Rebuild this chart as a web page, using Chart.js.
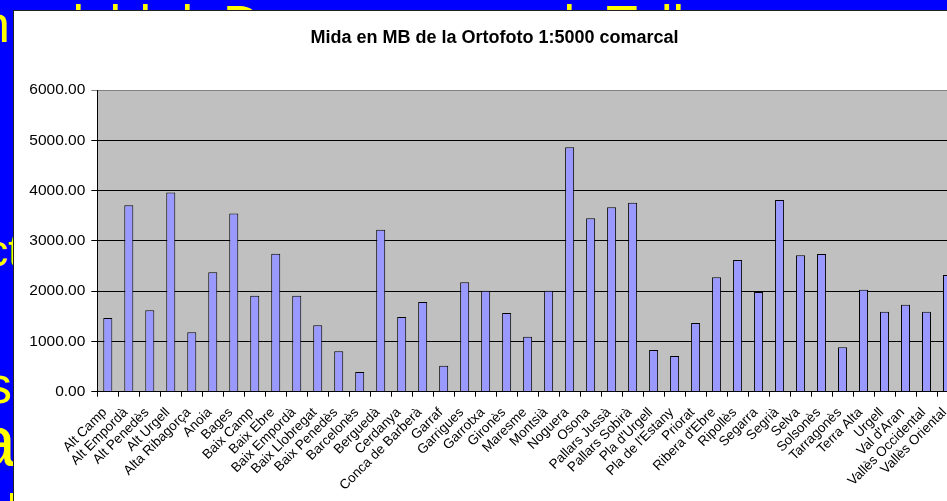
<!DOCTYPE html>
<html><head><meta charset="utf-8">
<script src="https://cdn.jsdelivr.net/npm/chart.js@4/dist/chart.umd.min.js"></script>
<style>
html,body{margin:0;padding:0;width:947px;height:501px;overflow:hidden;background:#0000FF;}
.bg{position:absolute;color:#FFFF00;font-family:"Liberation Sans",Arial,sans-serif;white-space:nowrap;line-height:1;}
#box{position:absolute;left:13px;top:10px;width:980px;height:520px;background:#fff;border:1px solid #222;box-sizing:border-box;}
#wrap{position:absolute;left:14px;top:11px;width:961px;height:490px;}
</style></head>
<body>
<div id="bgtext"></div>
<div id="box"></div>
<div id="wrap"><canvas id="c"></canvas></div>
<script>
// ---- data ----
const categories = ["Alt Camp","Alt Empordà","Alt Penedès","Alt Urgell","Alta Ribagorça","Anoia","Bages","Baix Camp","Baix Ebre","Baix Empordà","Baix Llobregat","Baix Penedès","Barcelonès","Berguedà","Cerdanya","Conca de Barberà","Garraf","Garrigues","Garrotxa","Gironès","Maresme","Montsià","Noguera","Osona","Pallars Jussà","Pallars Sobirà","Pla d'Urgell","Pla de l'Estany","Priorat","Ribera d'Ebre","Ripollès","Segarra","Segrià","Selva","Solsonès","Tarragonès","Terra Alta","Urgell","Val d'Aran","Vallès Occidental","Vallès Oriental"];
const sizesMB = [1465,3710,1620,3960,1180,2375,3545,1910,2745,1910,1320,803,392,3220,1485,1785,517,2175,2008,1565,1093,2008,4859,3447,3666,3757,829,710,1366,2274,2618,1982,3811,2712,2738,883,2028,1590,1730,1590,2320];
const yTicks = [0,1000,2000,3000,4000,5000,6000];
const chartTitle = "Mida en MB de la Ortofoto 1:5000 comarcal";

// ---- background slide text (mostly hidden behind the chart) ----
const bgItems = [
  {t:"n", x:-19, base:42, f:52},
  {t:"l", x:72.5, base:42, f:52},
  {t:"l", x:109.5, base:42, f:52},
  {t:"l", x:139.5, base:42, f:52},
  {t:"l", x:181.5, base:42, f:52},
  {t:"D", x:223, base:42, f:52},
  {t:"l", x:563.5, base:42, f:52},
  {t:"Tall", x:606, base:42, f:52},
  {t:"Objectius", pre:"Obje", x:-14, base:266, f:44},
  {t:"Dades", pre:"Dade", x:-14, base:403, f:52},
  {t:"la", pre:"l", x:-24, base:466, f:72},
  {t:"la", x:6.5, base:531, f:52}
];
(function(){
  const host = document.getElementById('bgtext');
  const mc = document.createElement('canvas').getContext('2d');
  bgItems.forEach(it=>{
    const s = document.createElement('span');
    s.className='bg'; s.textContent = it.t;
    s.style.fontSize = it.f+'px';
    let w = 0;
    if (it.pre){ mc.font = it.f+'px "Liberation Sans", Arial'; w = mc.measureText(it.pre).width; }
    s.style.left = (it.x - w)+'px';
    s.style.top = (it.base - 0.8465*it.f)+'px';
    host.appendChild(s);
  });
})();

const plotBg = {
  id:'plotBg',
  beforeDraw(chart){
    const {ctx, chartArea:a} = chart;
    ctx.save(); ctx.fillStyle='#C0C0C0';
    ctx.fillRect(a.left, a.top, a.right-a.left, a.bottom-a.top);
    ctx.restore();
  }
};

Chart.defaults.font.family = '"Liberation Sans", Arial, sans-serif';
Chart.defaults.color = '#000';

new Chart(document.getElementById('c'), {
  type:'bar',
  data:{
    labels: categories,
    datasets:[{
      data: sizesMB,
      backgroundColor:'#9999FF',
      borderColor:'#000',
      borderWidth:1,
      barPercentage:0.43,
      categoryPercentage:1
    }]
  },
  options:{
    responsive:true,
    maintainAspectRatio:false,
    animation:false,
    layout:{padding:{left:0,right:0,top:0,bottom:0}},
    plugins:{
      legend:{display:false},
      tooltip:{enabled:false},
      title:{display:true, text:chartTitle, color:'#000',
        font:{size:18, weight:'bold', lineHeight:1.2},
        padding:{top:16, bottom:41.4}}
    },
    scales:{
      x:{
        offset:true,
        grid:{display:true, drawOnChartArea:false, drawTicks:true, tickLength:5, color:'#000', offset:true},
        border:{display:true, color:'#000', width:1},
        ticks:{autoSkip:false, maxRotation:45, minRotation:45, padding:8, labelOffset:-3, font:{size:13.5}, color:'#000'},
        afterFit(s){ s.height = 109.3; }
      },
      y:{
        min:0, max:6000,
        afterBuildTicks(s){ s.ticks = yTicks.map(v=>({value:v})); },
        grid:{color:(c)=> c.tick && c.tick.value===6000 ? '#808080' : '#000', lineWidth:1, tickLength:6, drawTicks:true},
        border:{display:true, color:'#000', width:1},
        ticks:{padding:6, font:{size:15.5}, color:'#000', callback:(v)=>Number(v).toFixed(2)},
        afterFit(s){ s.width = 83.3; }
      },
      yRight:{
        axis:'y', type:'linear', position:'right', display:true,
        grid:{display:false, drawTicks:false}, border:{display:false},
        ticks:{display:false},
        afterFit(s){ s.width = 17; }
      }
    }
  },
  plugins:[plotBg]
});
</script>
</body></html>
